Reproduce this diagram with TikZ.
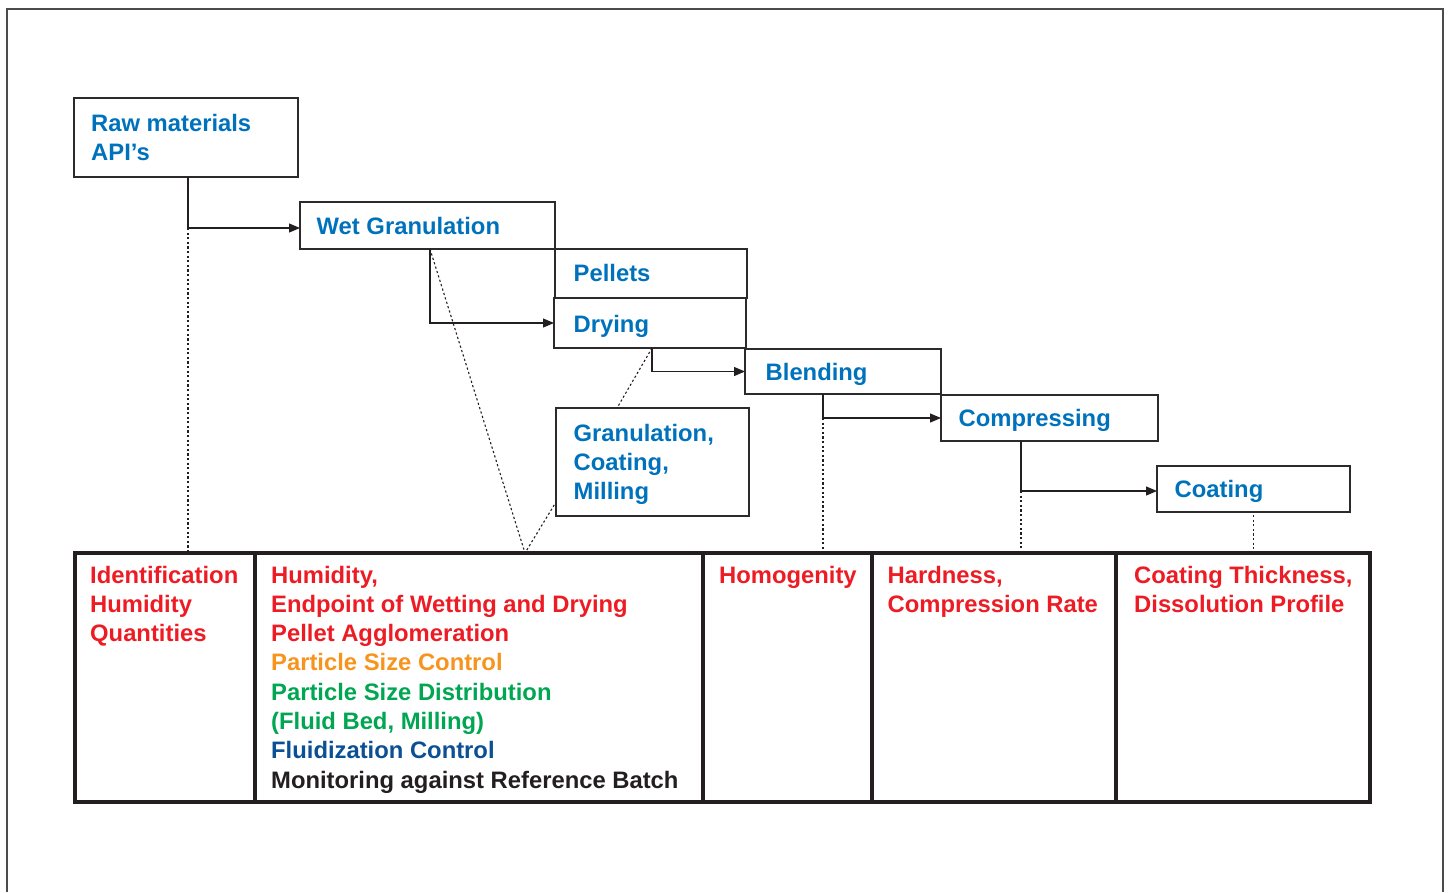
\documentclass[tikz,border=0pt]{standalone}
\usepackage{fontspec}
\setmainfont{Liberation Sans}
\usetikzlibrary{arrows.meta,calc}

\definecolor{procblue}{RGB}{0,114,188}
\definecolor{qred}{RGB}{237,28,36}
\definecolor{qorange}{RGB}{247,148,29}
\definecolor{qgreen}{RGB}{0,166,81}
\definecolor{qdkblue}{RGB}{11,79,149}
\definecolor{qblack}{RGB}{35,31,32}
\definecolor{edge}{RGB}{45,42,43}

\newcommand{\txtlines}[1]{\begin{tabular}[t]{@{}l@{}}#1\end{tabular}}

\tikzset{
  procbox/.style={draw=edge, line width=1.4pt, rectangle, inner sep=0pt, outer sep=0pt, anchor=north west},
  tblcell/.style={draw=qblack, line width=4pt, rectangle, inner sep=0pt, outer sep=0pt, anchor=north west, minimum height=249pt},
  lbl/.style={anchor=base west, inner sep=0pt, font=\fontsize{23.8}{29.3}\selectfont\bfseries},
  proclbl/.style={lbl, text=procblue},
  conn/.style={draw=qblack, line width=1.2pt, -{Triangle[length=11pt,width=9pt]}},
  dotline/.style={draw=qblack, line width=1.1pt, dash pattern=on 2.2pt off 2.4pt},
}

\begin{document}
\begin{tikzpicture}[x=1pt,y=-1pt]
  \useasboundingbox (0,0) rectangle (1451,892);
  % outer frame
  \draw[draw=edge!85, line width=1.5pt] (7,892) -- (7,9) -- (1443,9) -- (1443,892);

  % process steps
  \node[procbox, minimum width=224pt, minimum height=79pt] (raw)   at (74,98)   {};
  \node[procbox, minimum width=255pt, minimum height=47pt] (wet)   at (300,202) {};
  \node[procbox, minimum width=192pt, minimum height=49pt] (pel)   at (555,249) {};
  \node[procbox, minimum width=192pt, minimum height=50pt] (dry)   at (554,298) {};
  \node[procbox, minimum width=196pt, minimum height=45pt] (blend) at (745,349) {};
  \node[procbox, minimum width=217pt, minimum height=46pt] (comp)  at (941,395) {};
  \node[procbox, minimum width=193pt, minimum height=46pt] (coat)  at (1157,466) {};
  \node[procbox, minimum width=193pt, minimum height=108pt] (gcm)  at (556,408) {};

  \node[proclbl] (rawt)   at (91,131)   {\txtlines{Raw materials\\API’s}};
  \node[proclbl] (wett)   at (316.5,234) {Wet Granulation};
  \node[proclbl] (pelt)   at (573.5,281) {Pellets};
  \node[proclbl] (dryt)   at (573.5,332) {Drying};
  \node[proclbl] (blendt) at (765.5,380) {Blending};
  \node[proclbl] (compt)  at (958.5,426) {Compressing};
  \node[proclbl] (coatt)  at (1174.5,497) {Coating};
  \node[proclbl] (gcmt)   at (573.5,441) {\txtlines{Granulation,\\Coating,\\Milling}};

  % quality attribute table
  \node[tblcell, minimum width=180pt]   (cell1) at (75,553)    {};
  \node[tblcell, minimum width=448pt]   (cell2) at (255,553)   {};
  \node[tblcell, minimum width=168.5pt] (cell3) at (703,553)   {};
  \node[tblcell, minimum width=244pt]   (cell4) at (871.5,553) {};
  \node[tblcell, minimum width=254.5pt] (cell5) at (1115.5,553) {};

  \node[lbl, text=qred] (c1t) at (90,583) {\txtlines{Identification\\Humidity\\Quantities}};
  \node[lbl] (c2t) at (271,583) {\txtlines{%
    \textcolor{qred}{Humidity,}\\
    \textcolor{qred}{Endpoint of Wetting and Drying}\\
    \textcolor{qred}{Pellet Agglomeration}\\
    \textcolor{qorange}{Particle Size Control}\\
    \textcolor{qgreen}{Particle Size Distribution}\\
    \textcolor{qgreen}{(Fluid Bed, Milling)}\\
    \textcolor{qdkblue}{Fluidization Control}\\
    \textcolor{qblack}{Monitoring against Reference Batch}}};
  \node[lbl, text=qred] (c3t) at (719,583) {Homogenity};
  \node[lbl, text=qred] (c4t) at (887.5,583) {\txtlines{Hardness,\\Compression Rate}};
  \node[lbl, text=qred] (c5t) at (1134,583) {\txtlines{Coating Thickness,\\Dissolution Profile}};

  % branch points
  \coordinate (rawx)   at ([xshift=114pt]raw.south west);
  \coordinate (wetx)   at ([xshift=130pt]wet.south west);
  \coordinate (dryx)   at ([xshift=98pt]dry.south west);
  \coordinate (blendx) at ([xshift=78pt]blend.south west);
  \coordinate (compx)  at ([xshift=80pt]comp.south west);
  \coordinate (wetin)  at ([yshift=-2.5pt]wet.west);
  \coordinate (coatin) at ([yshift=-2pt]coat.west);
  \coordinate (gcmtop) at ([xshift=61pt]gcm.north west);
  \coordinate (gcmlft) at ([yshift=14pt]gcm.south west);
  \coordinate (vpt)    at ([xshift=270pt]cell2.north west);

  % flow arrows
  \draw[conn] (rawx) |- (wetin);
  \draw[conn] (wetx) |- (dry.west);
  \draw[conn] (dryx) |- (blend.west);
  \draw[conn] (blendx) |- (comp.west);
  \draw[conn] (compx) |- (coatin);

  % links to the quality attributes
  \draw[dotline] (rawx |- wetin) -- (rawx |- cell1.north);
  \draw[dotline] (blendx |- comp.west) -- (blendx |- cell3.north);
  \draw[dotline] (compx |- coatin) -- (compx |- cell4.north);
  \draw[dotline] ([yshift=-3pt]coat.south) -- (coat.south |- cell5.north);
  \draw[dotline] (wetx) -- (vpt) -- (gcmlft);
  \draw[dotline] (dryx) -- (gcmtop);
\end{tikzpicture}
\end{document}
